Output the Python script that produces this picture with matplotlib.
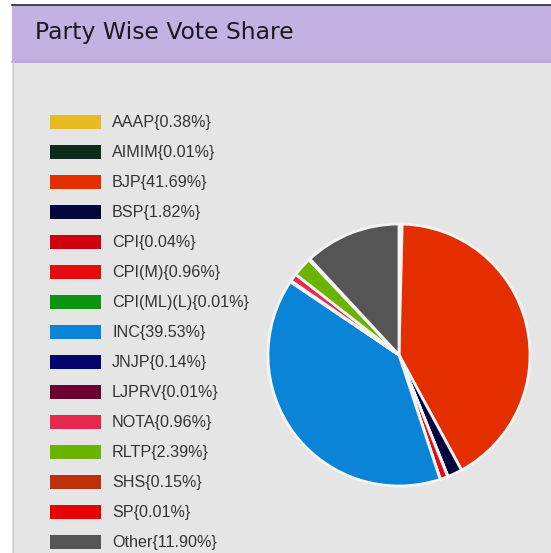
import matplotlib
matplotlib.use("Agg")
import matplotlib.pyplot as plt
from matplotlib.patches import Rectangle

parties = ["AAAP", "AIMIM", "BJP", "BSP", "CPI", "CPI(M)", "CPI(ML)(L)", "INC",
           "JNJP", "LJPRV", "NOTA", "RLTP", "SHS", "SP", "Other"]
shares = [0.38, 0.01, 41.69, 1.82, 0.04, 0.96, 0.01, 39.53,
          0.14, 0.01, 0.96, 2.39, 0.15, 0.01, 11.90]
colors = ["#e8b923", "#0b2b1a", "#e52e00", "#03053d", "#d0000f", "#e60a0a", "#0c9410", "#0a84d6",
          "#050570", "#6b0032", "#e5284e", "#6ab400", "#bd310a", "#e80000", "#555555"]
title = "Party Wise Vote Share"

W, H = 551, 553
fig = plt.figure(figsize=(W / 100, H / 100), dpi=100)
fig.patch.set_facecolor("white")

# background overlay in pixel coords
bg = fig.add_axes([0, 0, 1, 1])
bg.set_xlim(0, W)
bg.set_ylim(H, 0)
bg.axis("off")
bg.add_patch(Rectangle((12, 5), W - 12, H - 5, facecolor="#e5e5e5", edgecolor="none"))
bg.add_patch(Rectangle((12, 5), W - 12, 57, facecolor="#c3b1e3", edgecolor="none"))
bg.plot([12, W], [61.5, 61.5], color="#b3a0d6", lw=1.2)
bg.plot([12, W], [5, 5], color="#2a2a3a", lw=1.2)
bg.plot([12.5, 12.5], [62, H], color="#d0d0d0", lw=1)
bg.text(35, 39.5, title, fontsize=16.9, family="DejaVu Sans", color="#1a1a1a",
        va="baseline", ha="left")

# legend
for i, (p, s, c) in enumerate(zip(parties, shares, colors)):
    y = 122 + 30 * i
    bg.add_patch(Rectangle((50, y - 7), 51, 14, facecolor=c, edgecolor="none"))
    bg.text(112, y, f"{p}{{{s:.2f}%}}", fontsize=11.6, family="Liberation Sans",
            color="#333333", va="center", ha="left")

# pie
cx, cy, r = 399, 355, 131
ax = fig.add_axes([(cx - r) / W, (H - cy - r) / H, 2 * r / W, 2 * r / H])
ax.pie(shares, colors=colors, startangle=90, counterclock=False,
       wedgeprops=dict(edgecolor="#f4f4f4", linewidth=2))
ax.set_xlim(-1, 1)
ax.set_ylim(-1, 1)
ax.set_aspect("auto")
ax.axis("off")

fig.savefig("out.png", dpi=100, facecolor=fig.get_facecolor())
